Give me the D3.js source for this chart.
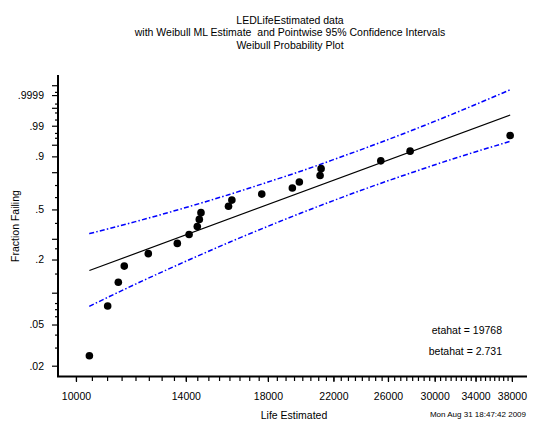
<!DOCTYPE html>
<html>
<head>
<meta charset="utf-8">
<script src="https://cdn.jsdelivr.net/npm/d3@7"></script>
<style>
  body { margin: 0; background: #fff; }
  svg { display: block; }
  text { font-family: "Liberation Sans", Arial, sans-serif; fill: #000; white-space: pre; }
</style>
</head>
<body>
<svg id="chart" width="541" height="421"></svg>
<script>
// Observed lives (hours), in rank order
const lifeHours = [10420, 11020, 11385, 11595, 12480, 13640, 14140, 14500, 14590, 14665,
                   15955, 16120, 17665, 19400, 19820, 21120, 21185, 25435, 27825, 37800];
// Plotting positions (i - 0.5) / n
const fractionFailing = [0.025, 0.075, 0.125, 0.175, 0.225, 0.275, 0.325, 0.375, 0.425, 0.475,
                         0.525, 0.575, 0.625, 0.675, 0.725, 0.775, 0.825, 0.875, 0.925, 0.975];

// Weibull ML estimates
const etahat = 19768;
const betahat = 2.731;

// Pointwise 95% confidence limits for F(t)
const bandHours = [10416, 12000, 14000, 16000, 18000, 20000, 22000, 25000, 28000, 32000, 37800];
const bandUpper = [0.330, 0.409, 0.515, 0.622, 0.724, 0.811, 0.882, 0.951, 0.9843, 0.99792, 0.999969];
const bandLower = [0.0745, 0.120, 0.193, 0.281, 0.377, 0.476, 0.571, 0.698, 0.798, 0.8913, 0.9605];

// Axis ticks
const probTicks  = [0.02, 0.05, 0.2, 0.5, 0.9, 0.99, 0.9999];
const probLabels = [".02", ".05", ".2", ".5", ".9", ".99", ".9999"];
const probLong   = [0.1, 0.3, 0.8, 0.95, 0.999, 0.99999];
const probShort  = [0.03, 0.04, 0.06, 0.07, 0.08, 0.15, 0.25, 0.4, 0.6, 0.7,
                    0.97, 0.98, 0.995, 0.998, 0.9995, 0.99995];
const hourTicks  = [10000, 14000, 18000, 22000, 26000, 30000, 34000, 38000];
const hourLabels = ["10000", "14000", "18000", "22000", "26000", "30000", "34000", "38000"];
const hourMinorStep = 500;

const titleLines = ["LEDLifeEstimated data",
                    "with Weibull ML Estimate  and Pointwise 95% Confidence Intervals",
                    "Weibull Probability Plot"];

// ---- layout ----
const plotL = 58, plotR = 527, plotT = 75, plotB = 376.5;
const svg = d3.select("#chart");
svg.append("rect").attr("width", 541).attr("height", 421).attr("fill", "#fff");

// Weibull probability transform: log(-log(1 - p))
const weib = p => Math.log(-Math.log(1 - p));

const x = d3.scaleLog().domain([9465, 39800]).range([plotL, plotR]);
const y = d3.scaleLinear().domain([weib(0.0157), weib(0.9999995)]).range([plotB, plotT]);

// ---- confidence bands ----
const bandLine = d3.line().x(d => x(d[0])).y(d => y(weib(d[1]))).curve(d3.curveMonotoneX);
[bandUpper, bandLower].forEach(arr => {
  svg.append("path")
    .attr("d", bandLine(bandHours.map((h, i) => [h, arr[i]])))
    .attr("fill", "none")
    .attr("stroke", "#0000ff")
    .attr("stroke-width", 1.5)
    .attr("stroke-dasharray", "5,2.2,1.5,2.2");
});

// ---- ML fit line ----
const fitF = t => 1 - Math.exp(-Math.pow(t / etahat, betahat));
const fitEnds = [lifeHours[0], lifeHours[lifeHours.length - 1]];
svg.append("path")
  .attr("d", d3.line().x(t => x(t)).y(t => y(weib(fitF(t))))(fitEnds))
  .attr("fill", "none")
  .attr("stroke", "#000")
  .attr("stroke-width", 1.2);

// ---- data points ----
svg.append("g").selectAll("circle")
  .data(lifeHours.map((h, i) => [h, fractionFailing[i]]))
  .join("circle")
  .attr("cx", d => x(d[0]))
  .attr("cy", d => y(weib(d[1])))
  .attr("r", 3.8)
  .attr("fill", "#000");

// ---- y axis ----
const yAxisG = svg.append("g").attr("transform", `translate(${plotL},0)`);
yAxisG.append("g").call(
  d3.axisLeft(y).tickValues(probShort.map(weib)).tickSize(3).tickFormat("").tickSizeOuter(0));
yAxisG.append("g").call(
  d3.axisLeft(y).tickValues(probLong.map(weib)).tickSize(6).tickFormat("").tickSizeOuter(0));
yAxisG.append("g").call(
  d3.axisLeft(y).tickValues(probTicks.map(weib)).tickSize(6).tickPadding(8)
    .tickFormat((d, i) => probLabels[i]).tickSizeOuter(0));
yAxisG.selectAll(".domain").remove();
yAxisG.selectAll("line").attr("stroke", "#000").attr("stroke-width", 1.2);
yAxisG.selectAll("text").style("font-size", "10.5px").attr("fill", "#000");

// ---- x axis ----
const xAxisG = svg.append("g").attr("transform", `translate(0,${plotB})`);
xAxisG.append("g").call(
  d3.axisBottom(x).tickValues(d3.range(10000, 38001, hourMinorStep)).tickSize(4.5)
    .tickFormat("").tickSizeOuter(0));
xAxisG.append("g").call(
  d3.axisBottom(x).tickValues(hourTicks).tickSize(5.5).tickPadding(11)
    .tickFormat((d, i) => hourLabels[i]).tickSizeOuter(0));
xAxisG.selectAll(".domain").remove();
xAxisG.selectAll("line").attr("stroke", "#000").attr("stroke-width", 1.2);
xAxisG.selectAll("text").style("font-size", "10.5px").attr("fill", "#000");

// axis lines
svg.append("path")
  .attr("d", `M${plotL},${plotT}V${plotB}H${plotR}`)
  .attr("fill", "none").attr("stroke", "#000").attr("stroke-width", 2);

// ---- titles and labels ----
svg.append("g").selectAll("text").data(titleLines).join("text")
  .attr("x", 290).attr("y", (d, i) => 24 + i * 12.3)
  .attr("text-anchor", "middle").style("font-size", "10.5px").text(d => d);

svg.append("text").attr("x", 294).attr("y", 419).attr("text-anchor", "middle")
  .style("font-size", "10.5px").text("Life Estimated");

svg.append("text").attr("transform", "translate(19,226) rotate(-90)")
  .attr("text-anchor", "middle").style("font-size", "10.5px").text("Fraction Failing");

svg.append("text").attr("x", 526).attr("y", 416.5).attr("text-anchor", "end")
  .style("font-size", "8px").text("Mon Aug 31 18:47:42 2009");

svg.append("text").attr("x", 502).attr("y", 333.5).attr("text-anchor", "end")
  .style("font-size", "10.5px").text(`etahat = ${etahat}`);
svg.append("text").attr("x", 502).attr("y", 355).attr("text-anchor", "end")
  .style("font-size", "10.5px").text(`betahat = ${betahat}`);
</script>
</body>
</html>
